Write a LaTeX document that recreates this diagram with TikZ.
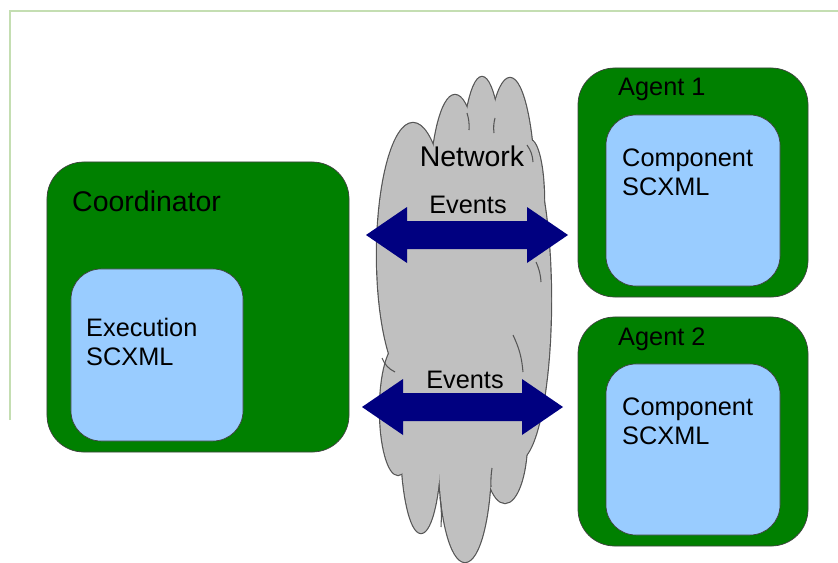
\documentclass[tikz,border=0pt]{standalone}
\usepackage{fontspec}
\setmainfont{Liberation Sans}
\usetikzlibrary{positioning,calc}

\definecolor{agentgreen}{RGB}{0,128,0}
\definecolor{scxmlblue}{RGB}{153,204,255}
\definecolor{eventnavy}{RGB}{0,0,128}
\definecolor{netgray}{RGB}{192,192,192}
\definecolor{netedge}{RGB}{85,85,85}
\definecolor{framegreen}{RGB}{196,222,178}

% one unit = one pixel of the sketch
\newcommand\pxunit{0.03cm}
\newcommand\bigsize{\fontsize{24.3}{27}\selectfont}
\newcommand\smallsize{\fontsize{21.6}{24}\selectfont}

\begin{document}
\begin{tikzpicture}[x=\pxunit, y=-\pxunit
    , hostbox/.style = {rectangle,draw=black!75,fill=agentgreen,line width=0.6pt,inner sep=0pt,rounded corners=1.1cm}
    , scxmlbox/.style = {rectangle,draw=black!75,fill=scxmlblue,line width=0.6pt,inner sep=0pt,rounded corners=0.9cm}
    , lbl/.style = {inner sep=0pt,anchor=base west,font=\smallsize}
    , eventarrow/.style = {fill=eventnavy}
    , netline/.style = {draw=netedge,line width=0.9pt}
]
\useasboundingbox (0,0) rectangle (838,563);
\draw[framegreen,line width=1.7pt] (10,420) -- (10,11) -- (838,11);

% coordinator
\node[hostbox,minimum width=9.06cm,minimum height=8.7cm] (coord) at (198,307) {};
\node[scxmlbox,minimum width=5.16cm,minimum height=5.16cm] (exec) at (157,355) {};
\node[lbl,font=\bigsize] (coordlbl) at (72,211) {Coordinator};
\node[lbl,align=left] (execlbl) at (86,365) {Execution\\SCXML};

% agents
\foreach \k/\y in {1/68, 2/317} {
    \node[hostbox,minimum width=6.9cm,minimum height=6.87cm] (agent\k) at (693,\y+114.5) {};
    \node[scxmlbox,minimum width=5.22cm,minimum height=5.13cm] (comp\k) at (693,\y+132.5) {};
    \node[lbl] (agentlbl\k) at (618,\y+28) {Agent \k};
    \node[lbl,align=left] (complbl\k) at (622,\y+127) {Component\\SCXML};
}

% network cloud: outline pass, then fill pass
\foreach \cx/\cy/\rx/\ry in {413/255/36/132, 455/200/25/105, 482/200/22/123, 510/200/25/122, 530/200/14/60,
        518/300/33/160, 505/440/22/63, 465/460/26/102, 421/440/20/93, 398/410/18/65, 465/320/75/140}
    \draw[netedge,line width=2pt] (\cx,\cy) ellipse [x radius=\rx, y radius=\ry];
\foreach \cx/\cy/\rx/\ry in {413/255/36/132, 455/200/25/105, 482/200/22/123, 510/200/25/122, 530/200/14/60,
        518/300/33/160, 505/440/22/63, 465/460/26/102, 421/440/20/93, 398/410/18/65, 465/320/75/140}
    \fill[netgray] (\cx,\cy) ellipse [x radius=\rx, y radius=\ry];
\draw[netline] (467,113) to[bend left=10] (469,130);
\draw[netline] (495,118) to[bend right=10] (494,133);
\draw[netline] (527,145) to[bend left=15] (533,162);
\draw[netline] (536,262) to[bend left=10] (541,282);
\draw[netline] (513,335) to[bend left=10] (523,372);
\draw[netline] (382,358) to[bend right=20] (395,372);
\draw[netline] (440,497) to[bend left=5] (441,527);
\draw[netline] (492,468) to[bend right=5] (491,487);
\node[inner sep=0pt,anchor=base,font=\bigsize] (net) at (472,166) {Network};

% events
\foreach \k/\w/\e/\y in {1/366/568/235, 2/362/563/407} {
    \coordinate (ev\k w) at (\w,\y);
    \coordinate (ev\k e) at (\e,\y);
    \fill[eventarrow] (ev\k w) -- ++(41,-28) -- ++(0,14) -- ($(ev\k e)+(-41,-14)$) -- ++(0,-14)
        -- (ev\k e) -- ++(-41,28) -- ++(0,-14) -- ($(ev\k w)+(41,14)$) -- ++(0,14) -- cycle;
}
\node[lbl,anchor=base] (evlbl1) at (468,213) {Events};
\node[lbl,anchor=base] (evlbl2) at (465,388) {Events};
\end{tikzpicture}
\end{document}
